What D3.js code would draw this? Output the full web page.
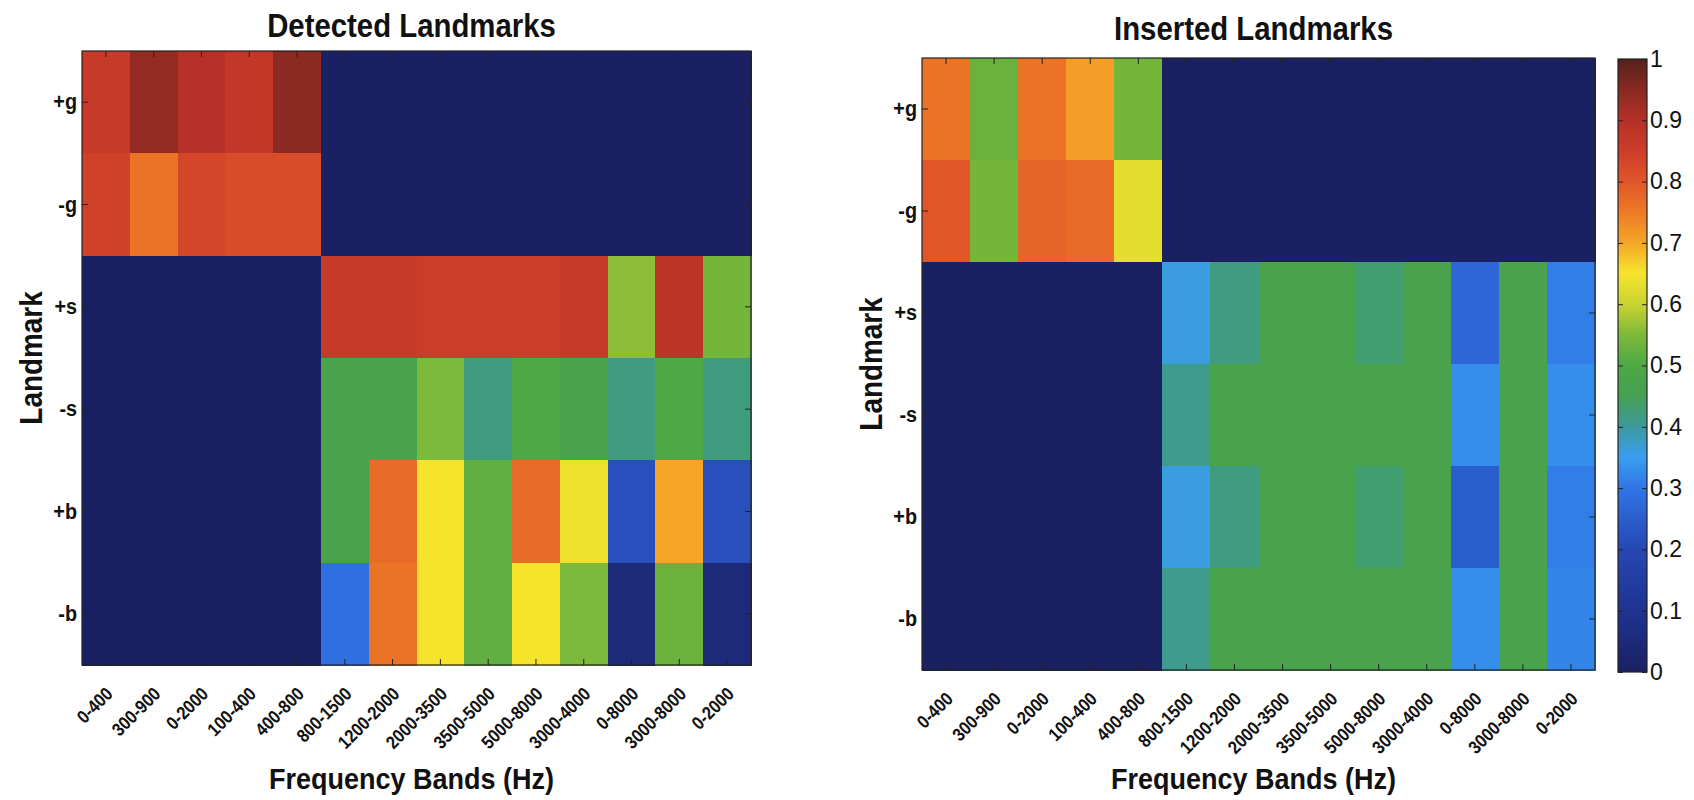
<!DOCTYPE html>
<html>
<head>
<meta charset="utf-8">
<script src="https://cdn.jsdelivr.net/npm/d3@7/dist/d3.min.js"></script>
<style>
  body { margin: 0; background: #fff; }
  svg { display: block; font-family: "Liberation Sans", Arial, sans-serif; }
</style>
</head>
<body>
<div id="chart"></div>
<script>
// Bandes de fréquence (colonnes) et landmarks (lignes)
const bands = ['0-400', '300-900', '0-2000', '100-400', '400-800', '800-1500', '1200-2000',
  '2000-3500', '3500-5000', '5000-8000', '3000-4000', '0-8000', '3000-8000', '0-2000'];
const landmarks = ['+g', '-g', '+s', '-s', '+b', '-b'];

// Valeurs (une ligne par landmark)
const detected = [
  [0.86, 0.94, 0.90, 0.87, 0.95, 0, 0, 0, 0, 0, 0, 0, 0, 0],
  [0.84, 0.76, 0.83, 0.82, 0.82, 0, 0, 0, 0, 0, 0, 0, 0, 0],
  [0, 0, 0, 0, 0, 0.86, 0.86, 0.85, 0.85, 0.85, 0.86, 0.56, 0.88, 0.54],
  [0, 0, 0, 0, 0, 0.47, 0.47, 0.55, 0.42, 0.50, 0.47, 0.42, 0.50, 0.42],
  [0, 0, 0, 0, 0, 0.47, 0.77, 0.65, 0.52, 0.77, 0.64, 0.22, 0.70, 0.22],
  [0, 0, 0, 0, 0, 0.29, 0.76, 0.65, 0.52, 0.65, 0.55, 0.05, 0.53, 0.05]
];
const inserted = [
  [0.76, 0.53, 0.76, 0.71, 0.54, 0, 0, 0, 0, 0, 0, 0, 0, 0],
  [0.80, 0.54, 0.78, 0.77, 0.63, 0, 0, 0, 0, 0, 0, 0, 0, 0],
  [0, 0, 0, 0, 0, 0.36, 0.42, 0.47, 0.47, 0.43, 0.47, 0.27, 0.47, 0.31],
  [0, 0, 0, 0, 0, 0.41, 0.47, 0.47, 0.47, 0.47, 0.47, 0.33, 0.47, 0.33],
  [0, 0, 0, 0, 0, 0.36, 0.42, 0.47, 0.47, 0.43, 0.47, 0.25, 0.47, 0.31],
  [0, 0, 0, 0, 0, 0.41, 0.47, 0.47, 0.47, 0.47, 0.47, 0.33, 0.47, 0.32]
];
const colorbarTicks = [0, 0.1, 0.2, 0.3, 0.4, 0.5, 0.6, 0.7, 0.8, 0.9, 1];

// Palette type "jet" un peu terne, comme sur le scan
const cmapStops = [0, 0.1, 0.2, 0.3, 0.35, 0.4, 0.45, 0.5, 0.55, 0.6, 0.65, 0.7, 0.75, 0.8, 0.85, 0.9, 0.95, 1];
const cmapColors = ['#1a2163', '#1f3391', '#2647b3', '#3075e6', '#3a9ef0', '#3c9a9c', '#45a052', '#4ea845',
  '#7db93a', '#c8d430', '#f6e42c', '#f5a627', '#ee7a25', '#e05629', '#cc3c2a', '#b53027', '#8a2a22', '#52211c'];
const color = d3.scaleLinear().domain(cmapStops).range(cmapColors).clamp(true);

const W = 1694, H = 800;
const svg = d3.select('#chart').append('svg').attr('width', W).attr('height', H);

// Texte un peu condensé, comme la police du scan
function label(x, y, txt, size, rot, sx) {
  return svg.append('text')
    .attr('transform', `translate(${x},${y}) rotate(${rot}) scale(${sx},1)`)
    .attr('text-anchor', 'middle')
    .style('font-size', size + 'px').style('font-weight', 'bold').style('fill', '#111')
    .text(txt);
}

function drawPanel(opts) {
  const { left, top, width, height, title, titleY, values } = opts;
  const g = svg.append('g').attr('transform', `translate(${left},${top})`);

  const x = d3.scaleBand().domain(d3.range(bands.length)).range([0, width]);
  const y = d3.scaleBand().domain(landmarks).range([0, height]);

  // Cellules
  landmarks.forEach((lm, i) => {
    g.append('g').selectAll('rect')
      .data(values[i])
      .enter().append('rect')
      .attr('x', (d, j) => x(j))
      .attr('y', y(lm))
      .attr('width', x.bandwidth() + 0.5)
      .attr('height', y.bandwidth() + 0.5)
      .attr('shape-rendering', 'crispEdges')
      .style('fill', d => color(d));
  });

  // Axes avec graduations vers l'intérieur (style MATLAB)
  const xb = g.append('g').attr('transform', `translate(0,${height})`)
    .call(d3.axisBottom(x).tickSize(-6).tickFormat(j => bands[j]));
  xb.selectAll('text')
    .attr('x', 0).attr('y', 0).attr('dy', 0)
    .attr('text-anchor', 'end')
    .attr('transform', 'translate(8,30) rotate(-45) scale(0.88,1)')
    .style('font-size', '18.5px')
    .style('font-weight', 'bold')
    .style('fill', '#111');
  g.append('g').call(d3.axisTop(x).tickSize(-6).tickFormat(''));

  const yl = g.append('g').call(d3.axisLeft(y).tickSize(-6));
  yl.selectAll('text')
    .attr('x', 0)
    .attr('transform', 'translate(-5,0) scale(0.9,1)')
    .style('font-size', '22px')
    .style('font-weight', 'bold')
    .style('fill', '#111');
  g.append('g').attr('transform', `translate(${width},0)`)
    .call(d3.axisRight(y).tickSize(-6).tickFormat(''));

  g.selectAll('.domain').remove();
  g.selectAll('.tick line').style('stroke', '#222');

  // Cadre
  g.append('rect')
    .attr('width', width).attr('height', height)
    .style('fill', 'none').style('stroke', '#222').style('stroke-width', 1.2);

  // Titres et libellés
  const cx = left + width / 2 - 5;
  label(cx, titleY, title, 33, 0, 0.89);
  label(cx, 789, 'Frequency Bands (Hz)', 30, 0, 0.9);
  label(left - 40, top + height / 2, 'Landmark', 31, -90, 0.9);
}

drawPanel({ left: 82, top: 51, width: 669, height: 614, title: 'Detected Landmarks', titleY: 37, values: detected });
drawPanel({ left: 922, top: 58, width: 673, height: 612, title: 'Inserted Landmarks', titleY: 40, values: inserted });

// Barre de couleur
const cb = { left: 1618, top: 59, width: 29, height: 613 };
const grad = svg.append('defs').append('linearGradient')
  .attr('id', 'cmap').attr('x1', 0).attr('y1', 1).attr('x2', 0).attr('y2', 0);
grad.selectAll('stop')
  .data(cmapStops)
  .enter().append('stop')
  .attr('offset', d => d)
  .attr('stop-color', d => color(d));

const cbScale = d3.scaleLinear().domain([0, 1]).range([cb.top + cb.height, cb.top]);
svg.append('rect')
  .attr('x', cb.left).attr('y', cb.top)
  .attr('width', cb.width).attr('height', cb.height)
  .style('fill', 'url(#cmap)')
  .style('stroke', '#222').style('stroke-width', 1.2);

const cbr = svg.append('g').attr('transform', `translate(${cb.left + cb.width},0)`)
  .call(d3.axisRight(cbScale).tickValues(colorbarTicks).tickSize(-5).tickPadding(3).tickFormat(d3.format('')));
cbr.selectAll('text').style('font-size', '23px').style('fill', '#111');
svg.append('g').attr('transform', `translate(${cb.left},0)`)
  .call(d3.axisLeft(cbScale).tickValues(colorbarTicks).tickSize(-5).tickFormat(''));
svg.selectAll('.domain').remove();
svg.selectAll('.tick line').style('stroke', '#222');
</script>
</body>
</html>
